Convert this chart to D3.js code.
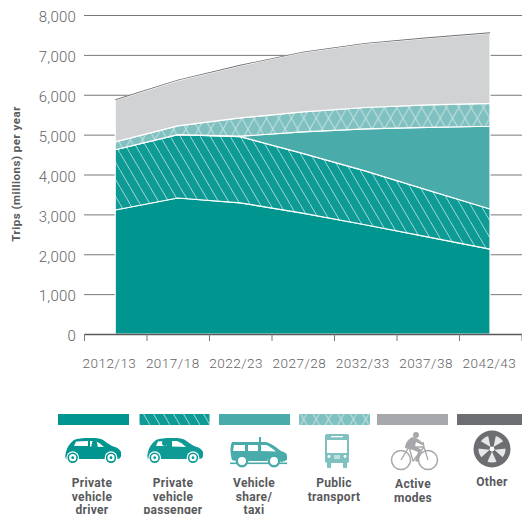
<!DOCTYPE html>
<html>
<head>
<meta charset="utf-8">
<script src="https://cdn.jsdelivr.net/npm/d3@7"></script>
<style>
  html, body { margin: 0; padding: 0; background: #fff; }
  svg { display: block; }
  text { font-family: Roboto, sans-serif; }
</style>
</head>
<body>
<div id="visualization-area"></div>
<script>
var years = ["2012/13", "2017/18", "2022/23", "2027/28", "2032/33", "2037/38", "2042/43"];
var yTicks = [0, 1000, 2000, 3000, 4000, 5000, 6000, 7000, 8000];

// trips (millions) per year, each mode on its own
var driver = [3110, 3410, 3290, 3030, 2740, 2435, 2130];
var passenger = [1510, 1590, 1660, 1500, 1350, 1175, 1005];
var share = [0, 0, 10, 540, 1055, 1570, 2075];
var publicTransport = [200, 220, 460, 500, 535, 565, 575];
var active = [1045, 1135, 1310, 1490, 1600, 1675, 1760];
var other = [20, 20, 20, 20, 20, 20, 20];

var modeNames = ["driver", "passenger", "share", "public", "active", "other"];
var modeFills = ["#00958f", "url(#hatch)", "#4aabab", "url(#cross)", "#d1d2d4", "#6d6e71"];
var legendFills = ["#00958f", "url(#hatch)", "#4aabab", "url(#cross)", "#a7a8ab", "#6d6e71"];
var legendLabels = [
    ["Private", "vehicle", "driver"],
    ["Private", "vehicle", "passenger"],
    ["Vehicle", "share/", "taxi"],
    ["Public", "transport"],
    ["Active", "modes"],
    ["Other"]
];

var table = years.map(function (y, i) {
    return {
        year: y,
        driver: driver[i],
        passenger: passenger[i],
        share: share[i],
        public: publicTransport[i],
        active: active[i],
        other: other[i]
    };
});

var svg = d3.select("#visualization-area")
    .append("svg")
    .attr("width", 522)
    .attr("height", 514);

// hatch fills
var defs = svg.append("defs");

var hatch = defs.append("pattern")
    .attr("id", "hatch")
    .attr("patternUnits", "userSpaceOnUse")
    .attr("width", 10)
    .attr("height", 17);
hatch.append("rect").attr("width", 10).attr("height", 17).attr("fill", "#0f9b95");
hatch.append("path")
    .attr("d", "M-1,-1.7L11,18.7")
    .attr("stroke", "#9fd6d2")
    .attr("stroke-width", 1)
    .attr("fill", "none");

var cross = defs.append("pattern")
    .attr("id", "cross")
    .attr("patternUnits", "userSpaceOnUse")
    .attr("width", 12.4)
    .attr("height", 21.5);
cross.append("rect").attr("width", 12.4).attr("height", 21.5).attr("fill", "#7fc0c0");
cross.append("path")
    .attr("d", "M0,0L12.4,21.5M12.4,0L0,21.5")
    .attr("stroke", "#c4e3e1")
    .attr("stroke-width", 1)
    .attr("fill", "none");

// the labels in the reference sit a bit left of the areas' points
var bandScale = d3.scaleBand()
    .domain(years)
    .range([77.8, 521]);

var tickScale = d3.scaleLinear()
    .domain([0, years.length])
    .range([84, 521.5]);

var xScale = d3.scalePoint()
    .domain(years)
    .range([115.2, 490]);

var yScale = d3.scaleLinear()
    .domain([0, 8000])
    .range([334, 15]);

// y axis, the tick lines run across as gridlines behind the areas
var yAxis = svg.append("g")
    .attr("transform", "translate(84,0)")
    .call(d3.axisLeft(yScale)
        .tickValues(yTicks)
        .tickFormat(d3.format(","))
        .tickSize(-438)
        .tickPadding(8));
yAxis.select(".domain").remove();
yAxis.selectAll("line").attr("stroke", "#77787b").attr("stroke-width", 1);
yAxis.selectAll("text")
    .attr("y", 2)
    .attr("fill", "#636466")
    .style("font-size", "15px")
    .style("font-weight", 300)
    .style("letter-spacing", "0.2px");

var stack = d3.stack().keys(modeNames);
var layers = stack(table);

var area = d3.area()
    .x(function (d) { return xScale(d.data.year); })
    .y0(function (d) { return yScale(d[0]); })
    .y1(function (d) { return yScale(d[1]); });

svg.append("g")
    .selectAll("path")
    .data(layers)
    .enter()
    .append("path")
    .attr("d", area)
    .attr("fill", function (d, i) { return modeFills[i]; })
    .attr("stroke", function (d) { return d.key == "other" ? "none" : "#fff"; })
    .attr("stroke-width", 1.2)
    .attr("stroke-linejoin", "round");

// x axis: labels sit in the bands, tick marks on the band edges
var xLabels = svg.append("g")
    .attr("transform", "translate(0,334)")
    .call(d3.axisBottom(bandScale).tickSize(0).tickPadding(24));
xLabels.select(".domain").remove();
xLabels.selectAll("text")
    .attr("fill", "#636466")
    .style("font-size", "13.5px")
    .style("font-weight", 300)
    .style("letter-spacing", "0.5px");

var xEdges = svg.append("g")
    .attr("transform", "translate(0,334)")
    .call(d3.axisBottom(tickScale)
        .ticks(years.length)
        .tickFormat("")
        .tickSize(7)
        .tickSizeOuter(0));
xEdges.select(".domain").attr("stroke", "#58595b").attr("stroke-width", 1.6);
xEdges.selectAll("line").attr("stroke", "#77787b").attr("stroke-width", 1);

svg.append("text")
    .attr("transform", "translate(20,174) rotate(-90)")
    .attr("text-anchor", "middle")
    .attr("fill", "#58595b")
    .style("font-size", "11.5px")
    .style("font-weight", 700)
    .style("letter-spacing", "0.5px")
    .text("Trips (millions) per year");

// legend
var legendX = d3.scaleOrdinal()
    .domain(modeNames)
    .range([58, 139.5, 219, 299, 377, 457]);
var swatchWidth = d3.scaleOrdinal()
    .domain(modeNames)
    .range([71, 70, 71, 71, 71, 65]);
var labelX = d3.scaleOrdinal()
    .domain(modeNames)
    .range([92, 173, 254, 334, 413, 492]);
var labelY = d3.scaleOrdinal()
    .domain(modeNames)
    .range([487, 487, 487, 487, 488, 486]);

svg.append("g")
    .selectAll("rect")
    .data(modeNames)
    .enter()
    .append("rect")
    .attr("x", function (d) { return legendX(d); })
    .attr("y", 414)
    .attr("width", function (d) { return swatchWidth(d); })
    .attr("height", 11)
    .attr("fill", function (d, i) { return legendFills[i]; });

var labels = svg.append("g")
    .selectAll("text")
    .data(modeNames)
    .enter()
    .append("text")
    .attr("text-anchor", "middle")
    .attr("fill", "#58595b")
    .style("font-size", "12px")
    .style("font-weight", 700)
    .style("letter-spacing", "0.3px");

labels.each(function (d, i) {
    d3.select(this).selectAll("tspan")
        .data(legendLabels[i])
        .enter()
        .append("tspan")
        .attr("x", labelX(d))
        .attr("y", function (t, j) { return labelY(d) + j * 13.5; })
        .text(function (t) { return t; });
});

// icons
function drawCar(x, color, isPassenger) {
    var g = svg.append("g").attr("transform", "translate(" + x + ",438)");
    g.append("path")
        .attr("fill", color)
        .attr("d", "M1,14C2,9 5,5 9,2C14,0 25,-0.5 34,0.5C38,1 43,6 47,8C51,9 55,11 56,14L56,18C56,20 54,21 52,21L2,21C0,21 0,18 1,14Z");
    if (isPassenger) {
        g.append("path").attr("fill", "#fff").attr("d", "M9,8L11,3.5L20,3L20,8Z");
        g.append("path").attr("fill", "#fff").attr("d", "M25,3L30,3C33,4 36,6 39,9L25,8.5Z");
        g.append("circle").attr("cx", 18).attr("cy", 5).attr("r", 3).attr("fill", color);
    } else {
        g.append("path").attr("fill", "#fff").attr("d", "M9,8L11,3.5L23,3L23,8Z");
        g.append("path").attr("fill", "#fff").attr("d", "M25,3L30,3C33,4 36,6 39,9L25,8.5Z");
        g.append("circle").attr("cx", 29.5).attr("cy", 5).attr("r", 2.5).attr("fill", color);
        g.append("rect").attr("x", 26.5).attr("y", 6).attr("width", 6).attr("height", 3).attr("fill", color);
    }
    [7.7, 46].forEach(function (cx) {
        g.append("circle").attr("cx", cx).attr("cy", 19.7).attr("r", 6.4).attr("fill", "#fff");
        g.append("circle").attr("cx", cx).attr("cy", 19.7).attr("r", 5.2).attr("fill", color);
        g.append("circle").attr("cx", cx).attr("cy", 19.7).attr("r", 3.6).attr("fill", "#fff");
        g.append("circle").attr("cx", cx).attr("cy", 19.7).attr("r", 1.4).attr("fill", color);
    });
}
drawCar(65, "#00958f", false);
drawCar(147, "#0f9b95", true);

var van = svg.append("g").attr("transform", "translate(230,437)").attr("fill", "#4aabab");
van.append("rect").attr("x", 29).attr("y", 0).attr("width", 2).attr("height", 6);
van.append("path")
    .attr("d", "M2,5L36,5C41,6 47,11 51,14C54,15 57,16 57,19L57,23L52,25L49,24C47,18 39,18 37,24L18,24C16,18 8,18 6,24L2,23C0,16 0,9 2,5Z");
van.append("path").attr("fill", "#fff").attr("d", "M4,8L15,8L15,14L3,14Z");
van.append("path").attr("fill", "#fff").attr("d", "M18,8L28,8L28,14L18,14Z");
van.append("path").attr("fill", "#fff").attr("d", "M31,8L36,8C39,9 43,12 46,14.5L31,14Z");
van.append("rect").attr("x", 0).attr("y", 25.5).attr("width", 57).attr("height", 1.6);
[12, 44].forEach(function (cx) {
    van.append("circle").attr("cx", cx).attr("cy", 24).attr("r", 5.2).attr("fill", "#fff");
    van.append("circle").attr("cx", cx).attr("cy", 24).attr("r", 5.2).attr("fill", "none").attr("stroke", "#4aabab").attr("stroke-width", 2.4);
});

var bus = svg.append("g").attr("transform", "translate(325,434)").attr("fill", "#7fc0c0");
bus.append("rect").attr("x", 0).attr("y", 0).attr("width", 24).attr("height", 29).attr("rx", 2);
bus.append("rect").attr("x", 2).attr("y", 28).attr("width", 4).attr("height", 6).attr("rx", 1);
bus.append("rect").attr("x", 18).attr("y", 28).attr("width", 4).attr("height", 6).attr("rx", 1);
bus.append("rect").attr("x", 6).attr("y", 2).attr("width", 12).attr("height", 1.3).attr("fill", "#fff");
bus.append("rect").attr("x", 2).attr("y", 6).attr("width", 20).attr("height", 13).attr("fill", "#fff");
bus.append("circle").attr("cx", 4).attr("cy", 22.5).attr("r", 1.4).attr("fill", "#fff");
bus.append("circle").attr("cx", 20).attr("cy", 22.5).attr("r", 1.4).attr("fill", "#fff");
bus.append("rect").attr("x", 9).attr("y", 21.5).attr("width", 6).attr("height", 1).attr("fill", "#fff");
bus.append("rect").attr("x", 9).attr("y", 23.5).attr("width", 6).attr("height", 1).attr("fill", "#fff");

var cyclist = svg.append("g").attr("transform", "translate(391,431)");
cyclist.append("circle").attr("cx", 10).attr("cy", 29).attr("r", 9.5)
    .attr("fill", "none").attr("stroke", "#a7a8ab").attr("stroke-width", 1.5);
cyclist.append("circle").attr("cx", 37).attr("cy", 29).attr("r", 9.5)
    .attr("fill", "none").attr("stroke", "#a7a8ab").attr("stroke-width", 1.5);
cyclist.append("path")
    .attr("fill", "none").attr("stroke", "#a7a8ab").attr("stroke-width", 1.3)
    .attr("d", "M10,29L18,16L33,16L37,29M18,16L22,30L33,16M32,11L33,16");
cyclist.append("circle").attr("cx", 25).attr("cy", 4).attr("r", 3).attr("fill", "#a7a8ab");
cyclist.append("path")
    .attr("fill", "#a7a8ab")
    .attr("d", "M22,6C18,7 14,12 14,17L22,19L27,21L24,30L27,31L31,19L24,15L25,11L31,14L33,13L27,8Z");

var tyre = svg.append("g").attr("transform", "translate(492,449)");
tyre.append("circle").attr("r", 18.5).attr("fill", "#6d6e71");
tyre.append("circle").attr("r", 13.5).attr("fill", "#e6e7e8");
[-90, -18, 54, 126, 198].forEach(function (a) {
    tyre.append("path")
        .attr("transform", "rotate(" + a + ")")
        .attr("fill", "#6d6e71")
        .attr("d", "M2,-1.5L14,-4L14,4L2,1.5Z");
});
tyre.append("circle").attr("r", 2.4).attr("fill", "#fff");
</script>
</body>
</html>
